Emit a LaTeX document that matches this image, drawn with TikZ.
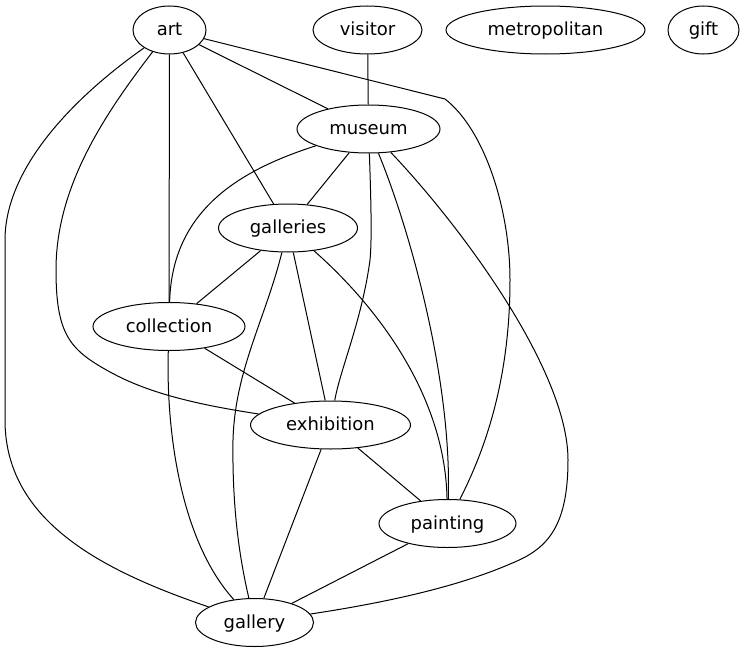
\documentclass[tikz,border=0pt]{standalone}
\usepackage{fontspec}
\setmainfont{DejaVu Sans}
\usepackage{tikz}
\usetikzlibrary{shapes.geometric}
\tikzset{
  nodo/.style={ellipse,draw,line width=1pt,minimum height=48pt,inner sep=0pt,text height=14pt,text depth=3pt,font=\fontsize{18}{20}\selectfont},
  arista/.style={line width=1pt}
}
\begin{document}
\begin{tikzpicture}[x=1pt,y=-1pt]
\useasboundingbox (0,0) rectangle (745,653);
\foreach \n/\x/\y/\w in {art/169.5/30/73,visitor/367.5/30/109,metropolitan/545.5/30/199,gift/703.5/30/71,
  museum/368.5/129/143,galleries/288/228/139,collection/169/326.5/152,exhibition/330.5/425/160,
  painting/447.5/523.5/137,gallery/254.5/622.5/118}
  {\node[nodo,minimum width=\w pt] (\n) at (\x,\y) {\n};}
\foreach \a/\b in {art/museum,art/galleries,art/collection,visitor/museum,museum/galleries,galleries/collection,
  galleries/exhibition,collection/exhibition,exhibition/painting,exhibition/gallery,painting/gallery}
  {\draw[arista] (\a) -- (\b);}
\draw[arista] (art) .. controls (100,120) and (56,190) .. (56,270) .. controls (56,335) and (70,350) .. (110,372) .. controls (150,394) and (200,405) .. (exhibition);
\draw[arista] (art) .. controls (70,100) and (5,170) .. (5,240) -- (5,420) .. controls (5,520) and (100,570) .. (gallery);
\draw[arista] (art) -- (445,99) .. controls (485,130) and (510,210) .. (510,280) .. controls (510,380) and (485,450) .. (painting);
\draw[arista] (museum) .. controls (240,170) and (172,210) .. (collection);
\draw[arista] (museum) .. controls (371,200) and (372,240) .. (370,260) .. controls (362,320) and (340,370) .. (exhibition);
\draw[arista] (museum) .. controls (410,230) and (452,380) .. (painting);
\draw[arista] (museum) .. controls (460,225) and (568,370) .. (568,460) .. controls (568,530) and (545,550) .. (510,564) .. controls (450,590) and (370,605) .. (gallery);
\draw[arista] (galleries) .. controls (370,300) and (445,390) .. (painting);
\draw[arista] (galleries) .. controls (265,320) and (235,370) .. (233,440) .. controls (232,510) and (240,560) .. (gallery);
\draw[arista] (collection) .. controls (166,430) and (180,540) .. (gallery);
\end{tikzpicture}
\end{document}
